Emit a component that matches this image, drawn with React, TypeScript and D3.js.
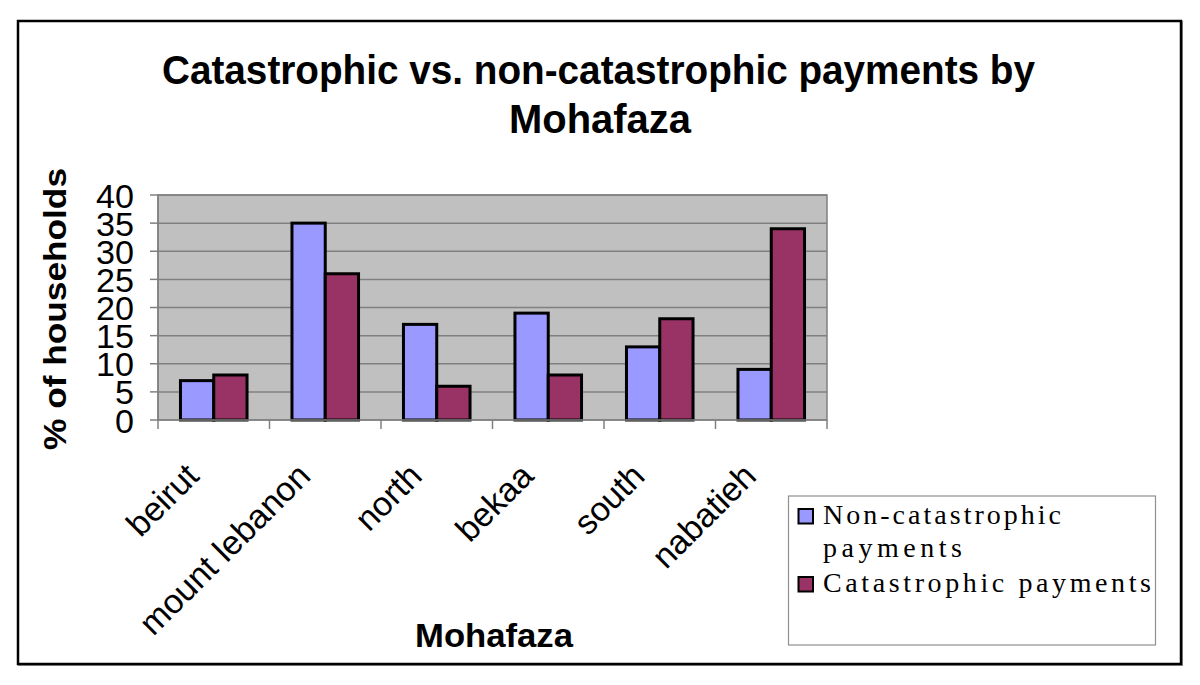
import React from "react";
import * as d3 from "d3";

const categories = ["beirut", "mount lebanon", "north", "bekaa", "south", "nabatieh"];
const nonCatastrophic = [7, 35, 17, 19, 13, 9];
const catastrophic = [8, 26, 6, 8, 18, 34];
const seriesNames = ["Non-catastrophic payments", "Catastrophic payments"];
const seriesColors = ["#9999FF", "#993366"];
const yTicks = [0, 5, 10, 15, 20, 25, 30, 35, 40];

const W = 1200;
const H = 685;
const plot = { left: 158, right: 827, top: 195, bottom: 420 };

export default function App() {
  const x = d3.scaleBand<string>().domain(categories).range([plot.left, plot.right]);
  const inner = d3
    .scaleBand<string>()
    .domain(seriesNames)
    .range([0, x.bandwidth()])
    .paddingInner(0)
    .paddingOuter(0.675);
  const y = d3.scaleLinear().domain([0, 40]).range([plot.bottom, plot.top]);
  const seriesValues = [nonCatastrophic, catastrophic];
  const boundaries = [...categories.map((c) => x(c) as number), plot.right];

  return (
    <svg
      width={W}
      height={H}
      style={{ position: "absolute", left: 0, top: 0, display: "block", background: "#fff" }}
    >
      {/* outer frame */}
      <rect x={19} y={22} width={1163} height={643} fill="none" stroke="#999" strokeWidth={2} />
      <rect x={18} y={21} width={1163} height={643} fill="#fff" stroke="#000" strokeWidth={2.5} />

      {/* title */}
      <g fontFamily="Arial, 'Liberation Sans', sans-serif" fontWeight="bold" fontSize={40} textAnchor="middle">
        <text x={598.5} y={84} textLength={873} lengthAdjust="spacingAndGlyphs">
          Catastrophic vs. non-catastrophic payments by
        </text>
        <text x={600} y={133} textLength={182} lengthAdjust="spacingAndGlyphs">Mohafaza</text>
      </g>

      {/* plot area */}
      <rect
        x={plot.left}
        y={plot.top}
        width={plot.right - plot.left}
        height={plot.bottom - plot.top}
        fill="#C0C0C0"
        stroke="#808080"
        strokeWidth={1.5}
      />
      {yTicks.slice(1).map((t) => (
        <line key={"g" + t} x1={plot.left} x2={plot.right} y1={y(t)} y2={y(t)} stroke="#808080" strokeWidth={1.5} />
      ))}

      {/* bars */}
      {categories.map((c, i) => (
        <g key={c}>
          {seriesNames.map((s, j) => {
            const v = seriesValues[j][i];
            return (
              <rect
                key={s}
                x={(x(c) as number) + (inner(s) as number)}
                y={y(v)}
                width={inner.bandwidth()}
                height={y(0) - y(v)}
                fill={seriesColors[j]}
                stroke="#000"
                strokeWidth={3}
              />
            );
          })}
        </g>
      ))}

      {/* axes */}
      <line x1={plot.left} x2={plot.right} y1={plot.bottom} y2={plot.bottom} stroke="#808080" strokeWidth={1.5} />
      <line x1={plot.left} x2={plot.left} y1={plot.top} y2={plot.bottom} stroke="#808080" strokeWidth={1.5} />
      {yTicks.map((t) => (
        <line key={"yt" + t} x1={plot.left - 8} x2={plot.left} y1={y(t)} y2={y(t)} stroke="#808080" strokeWidth={1.5} />
      ))}
      {boundaries.map((b, i) => (
        <line key={"xt" + i} x1={b} x2={b} y1={plot.bottom} y2={plot.bottom + 9} stroke="#808080" strokeWidth={1.5} />
      ))}

      <g fontFamily="Arial, 'Liberation Sans', sans-serif" fontSize={34} textAnchor="end" fill="#000">
        {yTicks.map((t) => (
          <text
            key={"yl" + t}
            x={134}
            y={y(t) + 12.5}
            textLength={String(t).length * 19}
            lengthAdjust="spacingAndGlyphs"
          >
            {t}
          </text>
        ))}
      </g>

      <g fontFamily="Arial, 'Liberation Sans', sans-serif" fontSize={34} textAnchor="end" fill="#000">
        {categories.map((c) => {
          const cx = (x(c) as number) + x.bandwidth() / 2 - 13;
          const cy = 478;
          return (
            <text key={"xl" + c} x={cx} y={cy} transform={`rotate(-45 ${cx} ${cy})`}>
              {c}
            </text>
          );
        })}
      </g>

      {/* axis titles */}
      <text
        x={494}
        y={647}
        fontFamily="Arial, 'Liberation Sans', sans-serif"
        fontWeight="bold"
        fontSize={34}
        textAnchor="middle"
        textLength={158}
        lengthAdjust="spacingAndGlyphs"
      >
        Mohafaza
      </text>
      <text
        transform={`translate(66 309) rotate(-90)`}
        fontFamily="Arial, 'Liberation Sans', sans-serif"
        fontWeight="bold"
        fontSize={31}
        textAnchor="middle"
        textLength={282}
        lengthAdjust="spacingAndGlyphs"
      >
        % of households
      </text>

      {/* legend */}
      <rect x={788.5} y={496} width={367} height={149} fill="#fff" stroke="#909090" strokeWidth={1.2} />
      <rect x={798.5} y={509} width={14.5} height={14.5} fill={seriesColors[0]} stroke="#000" strokeWidth={2} />
      <rect x={798.5} y={577} width={14.5} height={14.5} fill={seriesColors[1]} stroke="#000" strokeWidth={2} />
      <g fontFamily="'Liberation Serif', 'Times New Roman', serif" fontSize={28} fill="#000">
        <text x={823} y={524} textLength={238} lengthAdjust="spacing">
          Non-catastrophic
        </text>
        <text x={823} y={557} textLength={139} lengthAdjust="spacing">
          payments
        </text>
        <text x={823} y={592} textLength={328} lengthAdjust="spacing">
          Catastrophic payments
        </text>
      </g>
    </svg>
  );
}
